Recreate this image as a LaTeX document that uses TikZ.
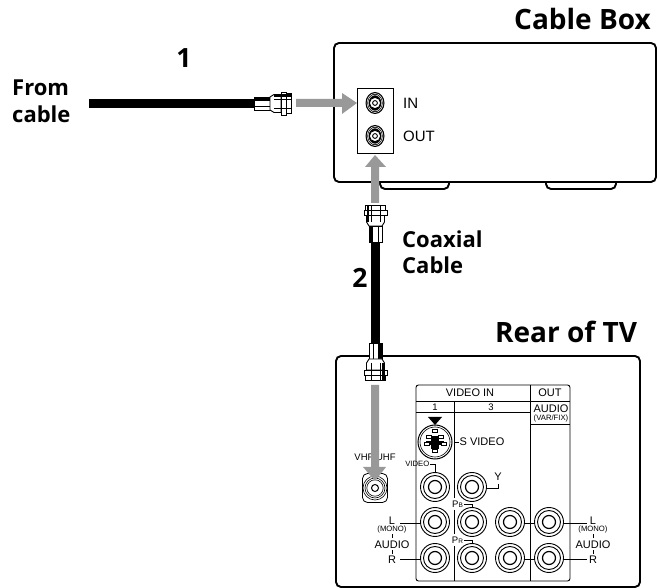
\documentclass[tikz,border=0pt]{standalone}
\usepackage{fontspec}
\setmainfont{Liberation Sans}
\newfontfamily\labelfont{Open Sans}
\definecolor{arrowgrey}{HTML}{999999}
\tikzset{
  x=1pt,y=-1pt,
  boxline/.style={draw=black,line width=1.9pt,rounded corners=5pt},
  panel/.style={draw=black,line width=0.9pt},
  biglabel/.style={font=\labelfont\bfseries\fontsize{22}{26}\selectfont,inner sep=0pt,anchor=base west},
  bignum/.style={font=\labelfont\bfseries\fontsize{26.5}{30}\selectfont,inner sep=0pt,anchor=base},
  bigtitle/.style={font=\labelfont\bfseries\fontsize{28}{32}\selectfont,inner sep=0pt,anchor=base west},
  boxtxt/.style={font=\fontsize{15}{17}\selectfont,inner sep=0pt,anchor=west},
  plain/.style={font=\fontsize{11}{13}\selectfont,inner sep=0pt},
  tiny/.style={font=\fontsize{7.7}{9}\selectfont,inner sep=0pt},
  smalltxt/.style={font=\fontsize{9.5}{10}\selectfont,inner sep=0pt},
  greyarrow/.style={fill=arrowgrey,draw=none},
  coax/.pic={
    \path[draw=black,fill=white,line width=0.9pt] (0,-6.5) rectangle (16,6.5);
    \path[fill=black] (0,-6.5) rectangle (16,-2.5);
    \path[draw=black,line width=0.4pt] (0,2.5) -- (16,2.5);
    \path[draw=black,fill=white,line width=0.9pt] (16,-6.5) -- (20,-9) -- (27,-9) -- (27,9) -- (20,9) -- (16,6.5) -- cycle;
    \path[draw=black,fill=white,line width=0.9pt] (27,-11.5) rectangle (32,11.5);
    \path[draw=black,fill=white,line width=0.9pt] (32,-10) rectangle (37,10);
    \path[draw=black,line width=0.4pt] (20,-4.5) -- (37,-4.5) (20,4.5) -- (37,4.5);
    \path[fill=black] (20,-9) rectangle (37,-6.5);
  },
  rca/.pic={
    \path[draw=black,line width=0.9pt,fill=white] (0,0) circle (14.5);
    \path[draw=black,line width=0.9pt] (0,0) circle (11.5);
    \path[draw=black,line width=1.2pt] (0,0) circle (6.5);
  },
  rfjack/.pic={
    \path[draw=black,line width=0.8pt,fill=white,rounded corners=5pt] (-12.5,-14.5) rectangle (12.5,14.5);
    \path[draw=black,line width=0.6pt] (0,0) circle (12);
    \path[draw=black,line width=0.6pt] (0,0) circle (10);
    \path[draw=black,line width=0.6pt] (0,0) circle (8.2);
    \path[draw=black,line width=1pt] (0,0) circle (3.5);
  },
}
\begin{document}
\begin{tikzpicture}
\useasboundingbox (0,0) rectangle (657,588);
% cable box
\draw[boxline,fill=white] (380,182) -- (380,189) -- (449,189) -- (449,182);
\draw[boxline,fill=white] (546,182) -- (546,189) -- (616,189) -- (616,182);
\draw[boxline] (334,43) rectangle (656,182);
\draw[panel,fill=white] (357.5,88) rectangle (393,153);
\foreach \yy in {103,136}{
  \fill[black] (375,\yy) ellipse (9.5 and 11);
  \draw[white,line width=0.5pt] (375,\yy) ellipse (8 and 9.5);
  \draw[white,line width=0.5pt] (375,\yy) ellipse (6.7 and 8);
  \fill[white] (375,\yy) circle (5.6);
  \draw[black,line width=0.9pt] (375,\yy) circle (5.6);
  \draw[black,line width=0.9pt] (375,\yy) circle (2.4);
}
\node[boxtxt] (inlabel) at (403,103.5) {IN};
\node[boxtxt] (outlabel) at (403,136.5) {OUT};
\node[bigtitle] (cableboxlabel) at (514,30) {Cable Box};
% arrow 1 and cable 1
\coordinate (cablestart) at (89,103.5);
\coordinate (cableend) at (254,103.5);
\draw[black,line width=9pt] (cablestart) -- (cableend);
\pic at (cableend) {coax};
\fill[greyarrow] (296,99) -- (342,99) -- (342,93) -- (357,103) -- (342,114) -- (342,107) -- (296,107) -- cycle;
% arrow 2 and cable 2
\fill[greyarrow] (371,203) -- (371,167) -- (365,167) -- (375,155) -- (386,167) -- (379,167) -- (379,203) -- cycle;
\coordinate (vtop) at (375.5,242);
\coordinate (vbot) at (375.5,343);
\draw[black,line width=9pt] (vtop) -- (vbot);
% TV box
\draw[boxline] (336,356) rectangle (640,587);
\pic[rotate=90] at (vtop) {coax};
\pic[rotate=-90] at (vbot) {coax};
% panel
\draw[panel,rounded corners=2.5pt] (416,385) rectangle (570,581);
\draw[panel] (530,385) -- (530,581);
\draw[panel] (416,401) -- (570,401);
\draw[panel] (416,412) -- (530,412);
\draw[panel] (530,424) -- (570,424);
\draw[panel] (454,401) -- (454,498);
\draw[panel] (454,510) -- (454,534);
\draw[panel] (454,546) -- (454,581);
\node[plain] (videoin) at (470,392.5) {VIDEO IN};
\node[plain] (outhead) at (550,392.5) {OUT};
\node[smalltxt] (one) at (435,407) {1};
\node[smalltxt] (three) at (491,407) {3};
\node[plain] (audiohead) at (551,408.5) {AUDIO};
\node[tiny] (varfix) at (551,418.5) {(VAR/FIX)};
% S video
\draw[black,line width=1pt,fill=white] (435,442) circle (17);
\draw[black,line width=0.6pt] (435,442) circle (15);
\fill[black] (428,417) -- (442,417) -- (435,425) -- cycle;
\fill[black] (431,436) rectangle (439,449);
\fill[black] (426,441) rectangle (444,445);
\foreach \a/\b in {432.5/429.5,426.5/435.5,438.5/435.5,424/442,441/442,432/449.5}{
  \draw[black,line width=0.7pt,fill=white] (\a,\b) rectangle ++(5,3);
}
\draw[panel] (454,442) -- (459,442);
\node[plain,anchor=west] (svideo) at (459.5,442) {S VIDEO};
% jacks
\foreach \xx/\yy in {435/487,472/487,435/522,472/522,510/522,549/522,435/558,472/558,510/558,549/558}{
  \pic at (\xx,\yy) {rca};
}
\draw[panel] (525,523) -- (534,523) (525,559) -- (534,559);
% VHF
\node[smalltxt] (vhf) at (375,457) {VHF/UHF};
\pic at (375,488) {rfjack};
\fill[greyarrow] (371,385) -- (379,385) -- (379,467) -- (386,467) -- (375,481) -- (363,467) -- (371,467) -- cycle;
% labels inside TV
\node[tiny,anchor=east] (videolbl) at (429.5,464) {VIDEO};
\draw[panel] (430,464) -- (435,464) -- (435,472);
\node[plain] (ylbl) at (498,477) {Y};
\draw[panel] (487,488) -- (498,488) -- (498,484);
\node[smalltxt] (pblbl) at (457.5,504) {P\fontsize{6.5}{7}\selectfont B};
\draw[panel] (464,504) -- (472,504) -- (472,507);
\node[smalltxt] (prlbl) at (457.5,540) {P\fontsize{6.5}{7}\selectfont R};
\draw[panel] (464,540) -- (472,540) -- (472,543);
\foreach \cx/\nm in {392/a,593/b}{
  \node[plain] (l\nm) at (\cx,521) {L};
  \node[tiny] (mono\nm) at (\cx,530) {(MONO)};
  \node[plain] (audio\nm) at (\cx,544.5) {AUDIO};
  \node[plain] (r\nm) at (\cx,560) {R};
  \draw[panel] (\cx,534) -- (\cx,538) (\cx,550) -- (\cx,553.5);
}
\draw[panel] (400,523) -- (420.5,523) (400,559) -- (420.5,559);
\draw[panel] (563.5,523) -- (587,523) (563.5,559) -- (587,559);
\node[bigtitle] (reartv) at (495,343) {Rear of TV};
% text labels
\node[biglabel] (fromlbl) at (12,96) {From};
\node[biglabel] (cablelbl) at (12,123) {cable};
\node[bignum] (num1) at (184,68) {1};
\node[bignum] (num2) at (360,288) {2};
\node[biglabel] (coaxlbl) at (402,248) {Coaxial};
\node[biglabel] (cablelbl2) at (402,274) {Cable};
\end{tikzpicture}
\end{document}
